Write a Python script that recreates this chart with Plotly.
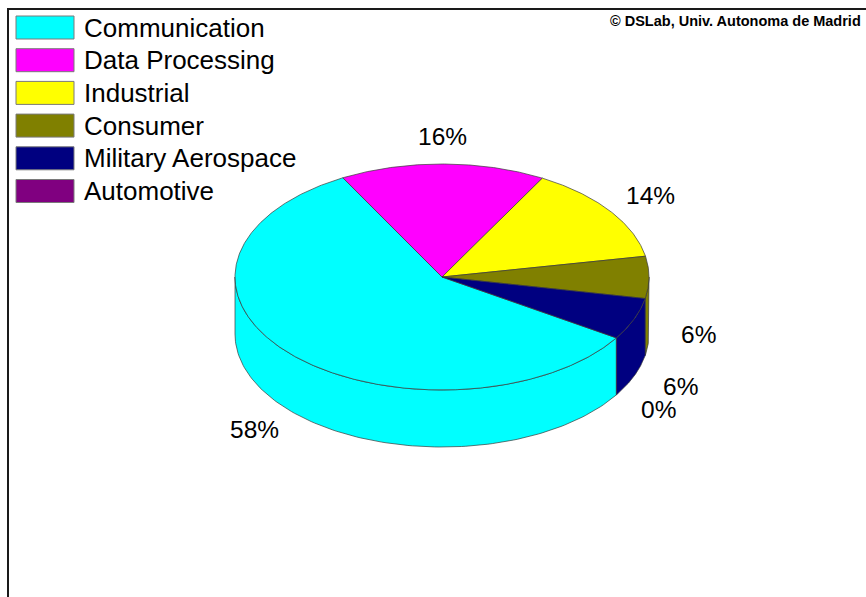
import numpy as np
import plotly.graph_objects as go

# Market share by application segment
categories = ["Communication", "Data Processing", "Industrial", "Consumer",
              "Military Aerospace", "Automotive"]
shares = [58, 16, 14, 6, 6, 0]
colors = ["#00FFFF", "#FF00FF", "#FFFF00", "#808000", "#000080", "#800080"]
credit = "© DSLab, Univ. Autonoma de Madrid"

W, H = 866, 597
FONT = "Liberation Sans, Arial, sans-serif"

# Pie geometry (pixel space of the full-figure axes)
CX, CY = 442, 277          # centre of the top face
RX, RY = 207, 113          # ellipse radii of the top face
DEPTH = 57                 # thickness of the disc
START = 327.4              # angle where the first slice begins; slices run clockwise
LABEL_R = 1.24
EDGE = dict(color="#3a3a3a", width=0.7)


def ell(a_deg, dy=0.0):
    a = np.radians(a_deg)
    return CX + RX * np.cos(a), CY - RY * np.sin(a) + dy


total = float(sum(shares))
bounds = []
hi = START
for v in shares:
    lo = hi - 360.0 * v / total
    bounds.append((lo, hi))
    hi = lo

fig = go.Figure()

# Outer walls: only the front half of the disc is visible
for (lo, hi), c, v in zip(bounds, colors, shares):
    if v <= 0:
        continue
    for k in (-1, 0, 1):
        a0, a1 = max(lo, 180 + 360 * k), min(hi, 360 + 360 * k)
        if a1 <= a0:
            continue
        t = np.linspace(a0, a1, 120)
        xt, yt = ell(t)
        xb, yb = ell(t[::-1], DEPTH)
        fig.add_trace(go.Scatter(
            x=np.r_[xt, xb, xt[0]], y=np.r_[yt, yb, yt[0]],
            mode="lines", fill="toself", fillcolor=c, line=EDGE,
            hoverinfo="skip", showlegend=False))

# Top faces
for (lo, hi), c, v, name in zip(bounds, colors, shares, categories):
    if v <= 0:
        continue
    t = np.linspace(hi, lo, max(int((hi - lo) * 2), 3))
    x, y = ell(t)
    fig.add_trace(go.Scatter(
        x=np.r_[CX, x, CX], y=np.r_[CY, y, CY],
        mode="lines", fill="toself", fillcolor=c, line=EDGE,
        name=name, hoverinfo="name", showlegend=False))

annotations = []
shapes = []

# Percentage labels outside each slice
for (lo, hi), v in zip(bounds, shares):
    mid = (lo + hi) / 2.0
    a = np.radians(mid)
    lx = CX + LABEL_R * RX * np.cos(a)
    ly = CY - LABEL_R * RY * np.sin(a) + (DEPTH if np.sin(a) < 0 else 0)
    annotations.append(dict(x=lx, y=ly, xref="x", yref="y", text=f"{v}%",
                            showarrow=False, xanchor="center", yanchor="middle",
                            font=dict(family=FONT, size=24.5, color="black")))

# Legend: swatches and names
for i, (name, c) in enumerate(zip(categories, colors)):
    yc = 27.5 + i * 32.7
    shapes.append(dict(type="rect", xref="x", yref="y", x0=16, x1=74,
                       y0=yc - 11.5, y1=yc + 11.5, fillcolor=c,
                       line=dict(color="#7a7a7a", width=1), layer="above"))
    annotations.append(dict(x=82, y=yc, xref="x", yref="y", text=name,
                            showarrow=False, xanchor="left", yanchor="middle",
                            font=dict(family=FONT, size=26, color="black")))

# Credit line
annotations.append(dict(x=863, y=21, xref="x", yref="y", text=f"<b>{credit}</b>",
                        showarrow=False, xanchor="right", yanchor="middle",
                        font=dict(family=FONT, size=14.5, color="black")))

# Outer frame
shapes.append(dict(type="rect", xref="x", yref="y", x0=8, y0=9, x1=W + 30, y1=H + 30,
                   line=dict(color="#1a1a1a", width=2), fillcolor="rgba(0,0,0,0)",
                   layer="above"))

fig.update_layout(
    width=W, height=H,
    margin=dict(l=0, r=0, t=0, b=0),
    paper_bgcolor="white", plot_bgcolor="white",
    xaxis=dict(range=[0, W], visible=False, fixedrange=True),
    yaxis=dict(range=[H, 0], visible=False, fixedrange=True),
    annotations=annotations, shapes=shapes,
    showlegend=False,
)

fig.write_html("out.html")
